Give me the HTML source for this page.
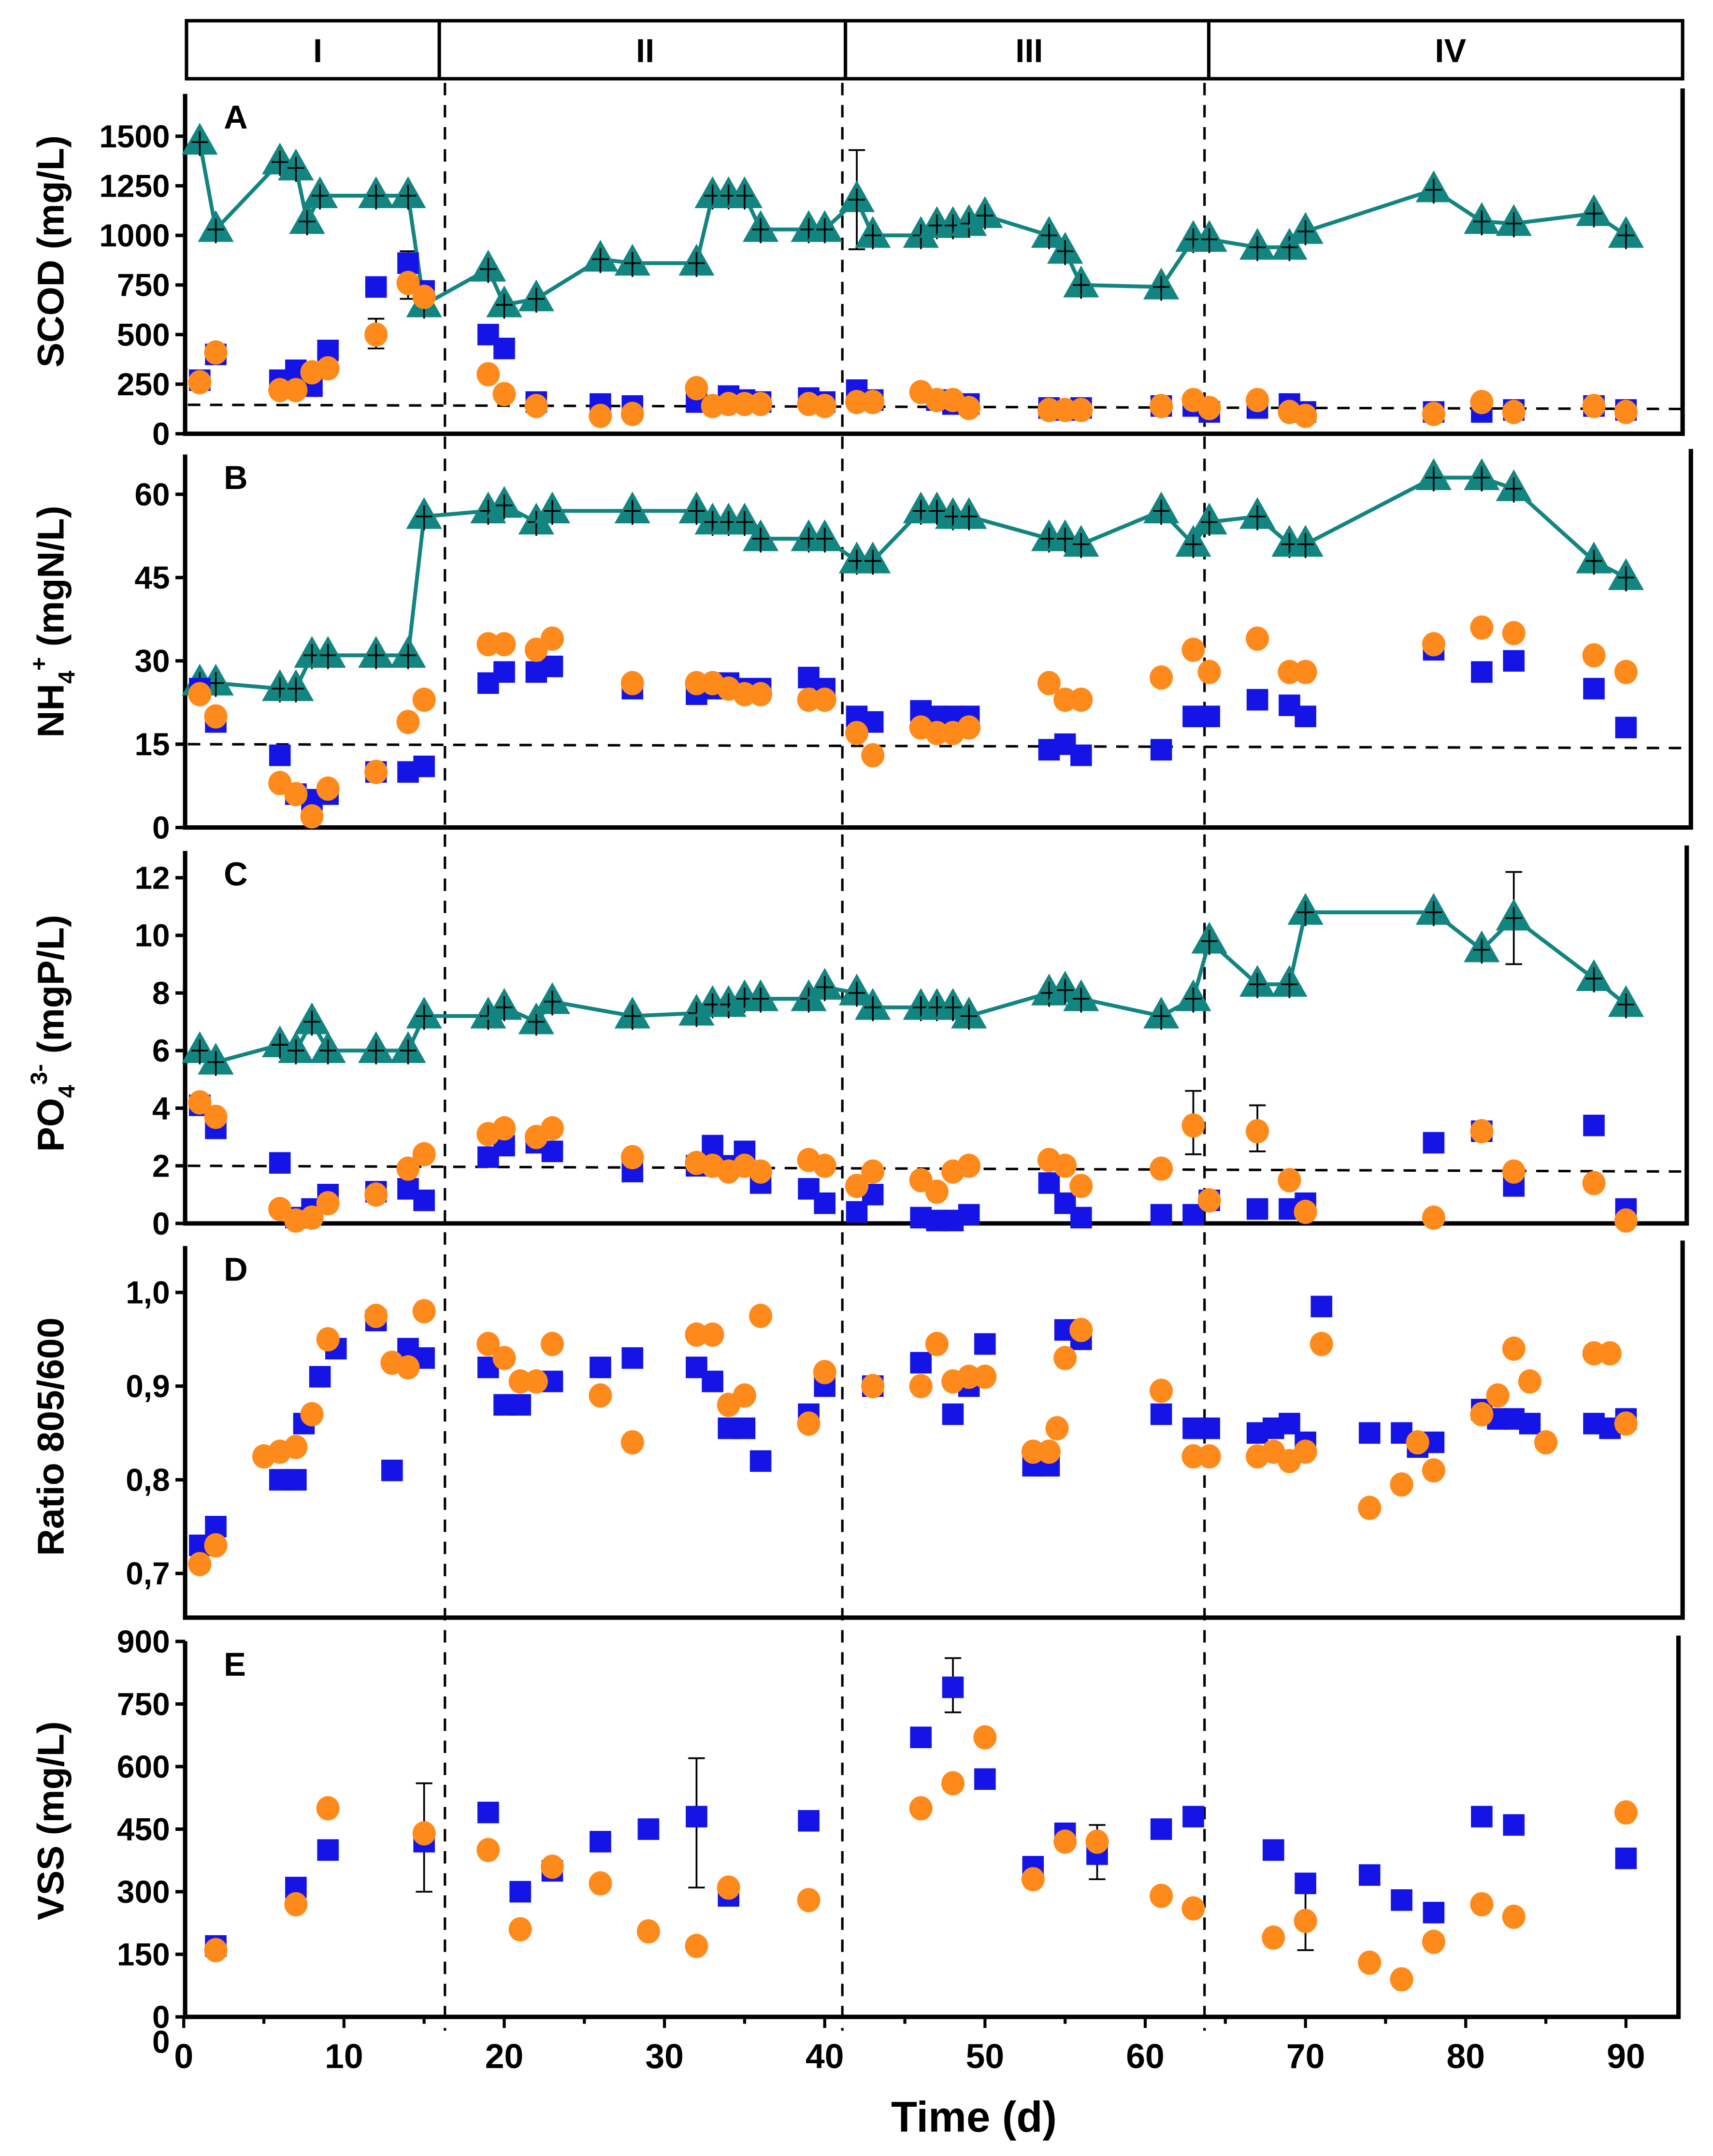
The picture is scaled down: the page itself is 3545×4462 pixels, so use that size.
<!DOCTYPE html>
<html><head><meta charset="utf-8">
<style>
html,body{margin:0;padding:0;background:#fff;}
svg{display:block;}
text{font-family:"Liberation Sans",Arial,sans-serif;font-weight:bold;fill:#000;}
</style></head>
<body>
<svg id="chart" width="3545" height="4462" viewBox="0 0 1240 1560.7" preserveAspectRatio="none" xmlns="http://www.w3.org/2000/svg">
<g id="header">
<rect x="135" y="15" width="1083" height="42" fill="none" stroke="#000" stroke-width="2.5"/>
<line x1="318" y1="15" x2="318" y2="57" stroke="#000" stroke-width="2.5"/>
<line x1="612" y1="15" x2="612" y2="57" stroke="#000" stroke-width="2.5"/>
<line x1="875" y1="15" x2="875" y2="57" stroke="#000" stroke-width="2.5"/>
<text x="230" y="45" font-size="24" text-anchor="middle">I</text>
<text x="467" y="45" font-size="24" text-anchor="middle">II</text>
<text x="745" y="45" font-size="24" text-anchor="middle">III</text>
<text x="1050" y="45" font-size="24" text-anchor="middle">IV</text>
</g>
<g id="plots"></g>
<text x="705" y="1543" font-size="31" text-anchor="middle">Time (d)</text>
</svg>
<script>
// ---------- data ----------
const scodTealDays=[1,2,6,7,7.7,8.5,12,14,15,19,20,22,26,28,32,33,34,35,36,39,40,42,43,46,47,48,49,50,54,55,56,61,63,64,67,69,70,78,81,83,88,90];
const scodTeal=[1470,1030,1370,1340,1070,1200,1200,1200,650,830,650,680,880,860,860,1200,1200,1200,1030,1030,1030,1180,1000,1000,1050,1050,1060,1100,1000,920,750,740,980,980,940,940,1020,1230,1070,1060,1110,1000];
const scodBlueDays=[1,2,6,7,8,9,12,14,15,19,20,22,26,28,32,34,35,36,39,40,42,43,47,48,49,54,55,56,61,63,64,67,69,70,78,81,83,88,90];
const scodBlue=[270,400,270,320,240,420,740,860,720,500,430,160,150,140,160,190,170,160,180,160,220,170,170,150,150,130,120,130,140,140,110,130,150,110,110,110,120,140,120];
const scodOrangeDays=[1,2,6,7,8,9,12,14,15,19,20,22,26,28,32,33,34,35,36,39,40,42,43,46,47,48,49,54,55,56,61,63,64,67,69,70,78,81,83,88,90];
const scodOrange=[260,410,220,220,310,330,500,760,690,300,200,140,90,100,230,140,150,150,150,150,140,160,160,210,170,170,130,120,120,120,140,170,130,170,110,90,100,160,110,140,110];

const nhTealDays=[1,2,6,7,8,9,12,14,15,19,20,22,23,28,32,33,34,35,36,39,40,42,43,46,47,48,49,54,55,56,61,63,64,67,69,70,78,81,83,88,90];
const nhTeal=[26,26,25,25,31,31,31,31,56,57,58,55,57,57,57,55,55,55,52,52,52,48,48,57,57,56,56,52,52,51,57,51,55,56,51,51,63,63,61,48,45];
const nhBlueDays=[1,2,6,7,8,9,12,14,15,19,20,22,23,28,32,33,34,35,36,39,40,42,43,46,47,48,49,54,55,56,61,63,64,67,69,70,78,81,83,88,90];
const nhBlue=[25,19,13,6,5,6,10,10,11,26,28,28,29,25,24,25,26,25,25,27,25,20,19,21,20,20,20,14,15,13,14,20,20,23,22,20,32,28,30,25,18];
const nhOrangeDays=nhBlueDays;
const nhOrange=[24,20,8,6,2,7,10,19,23,33,33,32,34,26,26,26,25,24,24,23,23,17,13,18,17,17,18,26,23,23,27,32,28,34,28,28,33,36,35,31,28];

const poTealDays=[1,2,6,7,8,9,12,14,15,19,20,22,23,28,32,33,34,35,36,39,40,42,43,46,47,48,49,54,55,56,61,63,64,67,69,70,78,81,83,88,90];
const poTeal=[6.0,5.6,6.2,6.0,7.0,6.0,6.0,6.0,7.2,7.2,7.5,7.0,7.7,7.2,7.3,7.6,7.6,7.8,7.8,7.8,8.2,8.0,7.5,7.5,7.5,7.5,7.2,8.0,8.1,7.8,7.2,7.8,9.8,8.3,8.3,10.8,10.8,9.5,10.6,8.5,7.6];
const poBlueDays=poTealDays;
const poBlue=[4.1,3.3,2.1,0.2,0.5,1.0,1.1,1.2,0.8,2.3,2.7,2.8,2.5,1.8,2.0,2.7,2.0,2.5,1.4,1.2,0.7,0.4,1.0,0.2,0.1,0.1,0.3,1.4,0.7,0.2,0.3,0.3,0.8,0.5,0.5,0.7,2.8,3.2,1.3,3.4,0.5];
const poOrangeDays=poTealDays;
const poOrange=[4.2,3.7,0.5,0.1,0.2,0.7,1.0,1.9,2.4,3.1,3.3,3.0,3.3,2.3,2.1,2.0,1.8,2.0,1.8,2.2,2.0,1.3,1.8,1.5,1.1,1.8,2.0,2.2,2.0,1.3,1.9,3.4,0.8,3.2,1.5,0.4,0.2,3.2,1.8,1.4,0.1];

const ratioBlueDays=[1,2,6,7,7.5,8.5,9.5,12,13,14,15,19,20,21,23,26,28,32,33,34,35,36,39,40,43,46,48,49,50,53,54,55,56,61,63,64,67,68,69,70,71,74,76,77,78,81,82,83,84,88,89,90];
const ratioBlue=[0.73,0.75,0.80,0.80,0.86,0.91,0.94,0.97,0.81,0.94,0.93,0.92,0.88,0.88,0.905,0.92,0.93,0.92,0.905,0.855,0.855,0.82,0.87,0.90,0.90,0.925,0.87,0.90,0.945,0.815,0.815,0.96,0.95,0.87,0.855,0.855,0.85,0.855,0.86,0.84,0.985,0.85,0.85,0.835,0.84,0.875,0.865,0.865,0.86,0.86,0.855,0.865];
const ratioOrangeDays=[1,2,5,6,7,8,9,12,13,14,15,19,20,21,22,23,26,28,32,33,34,35,36,39,40,43,46,47,48,49,50,53,54,54.5,55,56,61,63,64,67,68,69,70,71,74,76,77,78,81,82,83,84,85,88,89,90];
const ratioOrange=[0.71,0.73,0.825,0.83,0.835,0.87,0.95,0.975,0.925,0.92,0.98,0.945,0.93,0.905,0.905,0.945,0.89,0.84,0.955,0.955,0.88,0.89,0.975,0.86,0.915,0.90,0.90,0.945,0.905,0.91,0.91,0.83,0.83,0.855,0.93,0.96,0.895,0.825,0.825,0.825,0.83,0.82,0.83,0.945,0.77,0.795,0.84,0.81,0.87,0.89,0.94,0.905,0.84,0.935,0.935,0.86];

const vssBlueDays=[2,7,9,15,19,21,23,26,29,32,34,39,46,48,50,53,55,57,61,63,68,70,74,76,78,81,83,90];
const vssBlue=[170,310,400,420,490,300,350,420,450,480,290,470,670,790,570,360,440,390,450,480,400,320,340,280,250,480,460,380];
const vssOrangeDays=[2,7,9,15,19,21,23,26,29,32,34,39,46,48,50,53,55,57,61,63,68,70,74,76,78,81,83,90];
const vssOrange=[160,270,500,440,400,210,360,320,205,170,310,280,500,560,670,330,420,420,290,260,190,230,130,90,180,270,240,490];

// selected large error bars: panel, day, low, high
const errPanel=['a','a','a','c','c','c','e','e','e','e','e'];
const errDay=[42,12,14,63,67,83,15,32,48,70,57];
const errLow=[930,430,680,2.4,2.5,9.0,300,310,730,160,330];
const errHigh=[1430,580,920,4.6,4.1,12.2,560,620,860,310,460];

const xTickLabels=["0","10","20","30","40","50","60","70","80","90"];
const phaseBoundaries=[16.3,41.1,63.7];

// ---------- axes ----------
const X=d=>133+11.6*d;
const NS="http://www.w3.org/2000/svg";
const root=document.getElementById('plots');
function mk(tag,attrs,parent){const e=document.createElementNS(NS,tag);for(const k in attrs)e.setAttribute(k,attrs[k]);(parent||root).appendChild(e);return e;}
const TEAL="#138581",BLUE="#1414e6",ORANGE="#ff8a1c";

const panels=[
 {id:'a',letter:'A',top:68,bottom:314,zeroPx:314,per:35.9/250,ticks:[0,250,500,750,1000,1250,1500],fmt:v=>String(v),title:'SCOD (mg/L)',tcy:182,dash:[146,125],right:1218,
  series:[[scodTealDays,scodTeal,'tri'],[scodBlueDays,scodBlue,'sq'],[scodOrangeDays,scodOrange,'ci']]},
 {id:'b',letter:'B',top:329,bottom:599,zeroPx:599,per:60.3/15,ticks:[0,15,30,45,60],fmt:v=>String(v),title:'NH4+',tcy:450,dash:[15,14.3],right:1224,
  series:[[nhTealDays,nhTeal,'tri'],[nhBlueDays,nhBlue,'sq'],[nhOrangeDays,nhOrange,'ci']]},
 {id:'c',letter:'C',top:616,bottom:885.6,zeroPx:885.6,per:20.85,ticks:[0,2,4,6,8,10,12],fmt:v=>String(v),title:'PO4',tcy:748,dash:[2,1.8],right:1221,
  series:[[poTealDays,poTeal,'tri'],[poBlueDays,poBlue,'sq'],[poOrangeDays,poOrange,'ci']]},
 {id:'d',letter:'D',top:902,bottom:1171,zeroPx:null,ref:[1.0,935.6],per:678,ticks:[0.7,0.8,0.9,1.0],fmt:v=>v.toFixed(1).replace('.',','),title:'Ratio 805/600',tcy:1040,dash:null,right:1218,
  series:[[ratioBlueDays,ratioBlue,'sq'],[ratioOrangeDays,ratioOrange,'ci']]},
 {id:'e',letter:'E',top:1188,bottom:1460,zeroPx:1460,per:45.3/150,ticks:[0,150,300,450,600,750,900],fmt:v=>String(v),title:'VSS (mg/L)',tcy:1318,dash:null,right:1215,
  series:[[vssBlueDays,vssBlue,'sq'],[vssOrangeDays,vssOrange,'ci']]}
];

phaseBoundaries.forEach((d,i)=>{
 const l=mk('line',{x1:X(d),y1:60,x2:X(d),y2:1470,stroke:'#000','stroke-width':1.8,'stroke-dasharray':'9 7'});
 
 
});

panels.forEach(p=>{
 const Y=p.zeroPx!==null?(v=>p.zeroPx-v*p.per):(v=>p.ref[1]-(v-p.ref[0])*p.per);
 const g=mk('g',{});
 
 
 const ax=mk('path',{d:`M${134} ${p.top} V${p.bottom} H${p.right} V${p.top-4}`,fill:'none',stroke:'#000','stroke-width':3.2},g);
 
 
 p.ticks.forEach(t=>{
  mk('line',{x1:127,y1:Y(t),x2:134,y2:Y(t),stroke:'#000','stroke-width':2.5},g);
  const tx=mk('text',{x:123,y:Y(t)+8,'font-size':23,'text-anchor':'end'},g);
  tx.textContent=p.fmt(t);
  
  
 });
 const lt=mk('text',{x:162,y:p.top+25,'font-size':24},g);
 lt.textContent=p.letter;
 
 
 const tt=mk('text',{x:0,y:0,'font-size':27,'text-anchor':'middle',transform:`translate(46 ${p.tcy}) rotate(-90)`},g);
 if(p.title==='NH4+'){
  tt.innerHTML='NH<tspan font-size="17" dy="8">4</tspan><tspan font-size="17" dy="-20">+</tspan><tspan dy="12"> (mgN/L)</tspan>';
 }else if(p.title==='PO4'){
  tt.innerHTML='PO<tspan font-size="17" dy="8">4</tspan><tspan font-size="17" dy="-20">3-</tspan><tspan dy="12"> (mgP/L)</tspan>';
 }else tt.textContent=p.title;
 
 
 if(p.dash){
  const hl=mk('line',{x1:136,y1:Y(p.dash[0]),x2:p.right,y2:Y(p.dash[1]),stroke:'#000','stroke-width':1.8,'stroke-dasharray':'9 7'},g);
  
  
 }
 // error bars
 errPanel.forEach((pid,i)=>{
  if(pid!==p.id)return;
  const x=X(errDay[i]),y1=Y(errLow[i]),y2=Y(errHigh[i]);
  const eb=mk('path',{d:`M${x} ${y1} V${y2} M${x-6} ${y1} H${x+6} M${x-6} ${y2} H${x+6}`,stroke:'#000','stroke-width':1.3,fill:'none'},g);
  
  
 });
 p.series.forEach(([days,vals,kind])=>{
  if(kind==='tri'){
   const pts=days.map((d,i)=>X(d)+','+Y(vals[i])).join(' ');
   const pl=mk('polyline',{points:pts,fill:'none',stroke:TEAL,'stroke-width':2.8},g);
   
   
  }
  days.forEach((d,i)=>{
   const cx=X(d),cy=Y(vals[i]);let m;
   if(kind==='tri'){
    m=mk('polygon',{points:`${cx},${cy-14} ${cx-13},${cy+9} ${cx+13},${cy+9}`,fill:TEAL},g);
    mk('line',{x1:cx-6,y1:cy,x2:cx+6,y2:cy,stroke:'#000','stroke-width':1.2},g);
    mk('line',{x1:cx,y1:cy-8,x2:cx,y2:cy+10,stroke:'#000','stroke-width':1.2},g);
    
   }else if(kind==='sq'){
    m=mk('rect',{x:cx-7.8,y:cy-7.8,width:15.6,height:15.6,fill:BLUE},g);
    
   }else{
    m=mk('ellipse',{cx:cx,cy:cy,rx:8.4,ry:8.8,fill:ORANGE},g);
    
   }
   
  });
 });
});

for(let d=0;d<=90;d+=5){
 mk('line',{x1:X(d),y1:1460,x2:X(d),y2:d%10===0?1468:1465,stroke:'#000','stroke-width':2.2});
}
xTickLabels.forEach(s=>{
 const t=mk('text',{x:X(+s),y:1497,'font-size':25,'text-anchor':'middle'});
 t.textContent=s;
 
 
});
const z=mk('text',{x:123,y:1486,'font-size':23,'text-anchor':'end'});
z.textContent='0';


</script>
</body></html>
